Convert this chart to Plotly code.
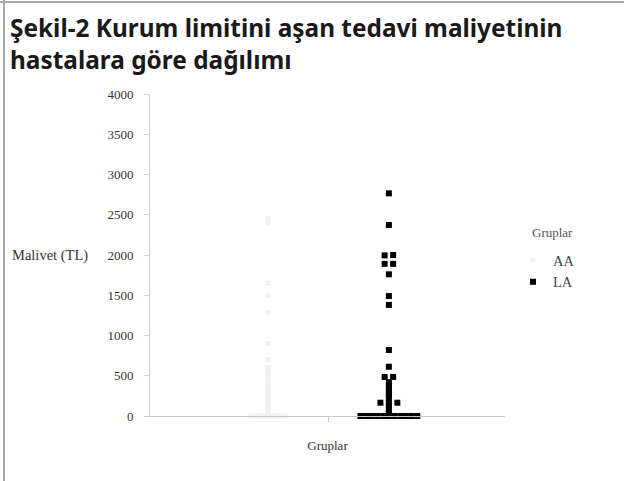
import plotly.graph_objects as go
from collections import defaultdict

title_lines = ["Şekil-2 Kurum limitini aşan tedavi maliyetinin", "hastalara göre dağılımı"]
groups = ["AA", "LA"]
group_pos = [1, 2]

# values (TL)
aa_values = [2450, 2400, 1650, 1500, 1280, 900, 700, 600, 570, 520, 480, 420, 400, 380,
             350, 330, 300, 260, 220, 180, 140, 100, 60, 0, 0, 0, 0, 0, 0, 0, 0]
la_values = [2766, 2373, 1995, 2000, 1890, 1890, 1760, 1490, 1380, 820, 612, 485, 485,
             420, 380, 340, 300, 260, 220, 165, 165, 165, 120, 80, 40,
             0, 0, 0, 0, 0, 0, 0, 0, 0, 0, 0]

y_ticks = [0, 500, 1000, 1500, 2000, 2500, 3000, 3500, 4000]


def dot_offsets(vals, binw=25, small_step=0.07, big_step=0.047):
    bins = defaultdict(list)
    for i, v in enumerate(vals):
        bins[round(v / binw)].append(i)
    offs = [0.0] * len(vals)
    for idxs in bins.values():
        n = len(idxs)
        step = small_step if n <= 4 else big_step
        for k, i in enumerate(idxs):
            offs[i] = (k - (n - 1) / 2) * step
    return offs


fig = go.Figure()
aa_off = dot_offsets(aa_values, small_step=0.03, big_step=0.04)
la_off = dot_offsets(la_values)
fig.add_trace(go.Scatter(
    x=[group_pos[0] + o for o in aa_off], y=aa_values, mode="markers", name=groups[0],
    marker=dict(symbol="square", size=5, color="#f1f1f1"), cliponaxis=False,
))
fig.add_trace(go.Scatter(
    x=[group_pos[1] + o for o in la_off], y=la_values, mode="markers", name=groups[1],
    marker=dict(symbol="square", size=6, color="#000000"), cliponaxis=False,
))

serif = "Liberation Serif"
L, R, T, B = 150, 119, 94, 65
PW, PH = 624 - L - R, 481 - T - B
fig.update_layout(
    width=624, height=481,
    margin=dict(l=L, r=R, t=T, b=B, autoexpand=False),
    paper_bgcolor="white", plot_bgcolor="white",
    xaxis=dict(range=[0.025, 2.96], showgrid=False, zeroline=False, showline=True,
               linecolor="#c8c8c8", linewidth=1, ticks="outside", ticklen=5,
               tickcolor="#c8c8c8", tickvals=[1.5], ticktext=[""],
               title=dict(text="Gruplar", font=dict(family=serif, size=13, color="#333"), standoff=17)),
    yaxis=dict(range=[0, 4000], showgrid=False, zeroline=False, showline=True,
               linecolor="#d0d0d0", linewidth=1, ticks="outside", ticklen=5,
               tickcolor="#d0d0d0", tickvals=y_ticks, ticklabelstandoff=8,
               tickfont=dict(family=serif, size=13, color="#333")),
    legend=dict(x=(513 - L) / PW, y=(416 - 244) / PH, xanchor="left", yanchor="top",
                font=dict(family=serif, size=14.5, color="#444"), itemwidth=30,
                bgcolor="rgba(0,0,0,0)"),
    showlegend=True,
)
# title (two lines, slightly tighter spacing than plotly's default line height)
for line_text, top_px in zip(title_lines, [9, 41]):
    fig.add_annotation(text=line_text, xref="paper", yref="paper",
                       x=(8 - L) / PW, y=1 + (T - top_px) / PH, xanchor="left", yanchor="top",
                       align="left", showarrow=False,
                       font=dict(family="Noto Sans", size=24.4, color="#1a1a1a", weight="bold"))
# legend title
fig.add_annotation(text="Gruplar", xref="paper", yref="paper",
                   x=(530 - L) / PW, y=(416 - 232) / PH, xanchor="left", yanchor="middle",
                   showarrow=False, font=dict(family=serif, size=13, color="#555"))
fig.add_annotation(text="Malivet (TL)", xref="paper", yref="y", x=(90 - L) / PW, y=2000,
                   xanchor="right", yanchor="middle", showarrow=False,
                   font=dict(family=serif, size=14.5, color="#333"))
# scan frame lines (left and top)
fig.add_shape(type="line", xref="paper", yref="paper", x0=(4 - L) / PW, x1=(4 - L) / PW,
              y0=-B / PH, y1=(481 - B) / PH, line=dict(color="#aaaaaa", width=2))
fig.add_shape(type="line", xref="paper", yref="paper", x0=-L / PW, x1=(624 - L) / PW,
              y0=(T - 2) / PH + 1, y1=(T - 2) / PH + 1, line=dict(color="#aaaaaa", width=2))

fig.write_html("out.html", config={"displayModeBar": False},
               post_script="document.body.style.margin='0';")
